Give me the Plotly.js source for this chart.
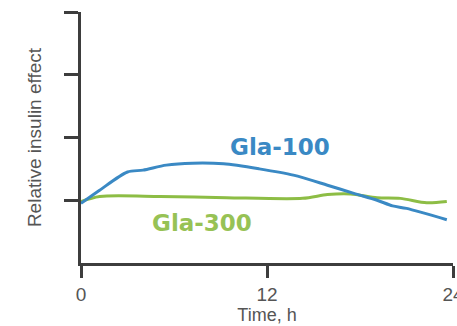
<!DOCTYPE html>
<html>
<head>
<meta charset="utf-8">
<script src="https://cdn.plot.ly/plotly-3.0.1.min.js"></script>
<style>
  html, body { margin: 0; padding: 0; background: #fff; }
  #chart { width: 457px; height: 326px; }
</style>
</head>
<body>
<div id="chart"></div>
<script>
// Time after injection (hours) and relative insulin effect for each formulation
const hoursGla100 = [0, 1.2, 3, 4, 5.5, 7.2, 9.2, 11.5, 13.7, 15.9, 17.6, 19.1, 20.1, 21, 23.6];
const effectGla100 = [0.95, 1.16, 1.45, 1.48, 1.56, 1.59, 1.58, 1.50, 1.40, 1.24, 1.11, 1.00, 0.91, 0.87, 0.69];

const hoursGla300 = [0, 1.2, 5.1, 9.4, 14.3, 15.9, 17.4, 19.1, 20.6, 22.3, 23.6];
const effectGla300 = [0.98, 1.06, 1.06, 1.04, 1.03, 1.09, 1.10, 1.04, 1.03, 0.96, 0.98];

const xTicks = [0, 12, 24];
const xTickLabels = ['0', '12', '24'];
const yTicks = [1, 2, 3, 4];

const blue = '#3a89c4';
const green = '#8dbd45';
const axisColor = '#3d3d3d';
const textColor = '#555555';

const traces = [
  {
    x: hoursGla300, y: effectGla300, mode: 'lines', name: 'Gla-300',
    line: { color: green, width: 3, shape: 'spline', smoothing: 0.8 },
    hoverinfo: 'skip'
  },
  {
    x: hoursGla100, y: effectGla100, mode: 'lines', name: 'Gla-100',
    line: { color: blue, width: 3, shape: 'spline', smoothing: 0.8 },
    hoverinfo: 'skip'
  }
];

const layout = {
  width: 457, height: 326,
  margin: { l: 81, r: 4, t: 12, b: 63 },
  paper_bgcolor: '#ffffff', plot_bgcolor: '#ffffff',
  showlegend: false,
  font: { family: 'Liberation Sans, Arial, sans-serif', color: textColor },
  xaxis: {
    range: [0, 24], tickvals: xTicks, ticktext: xTickLabels,
    showgrid: false, zeroline: false,
    showline: true, linecolor: axisColor, linewidth: 3,
    ticks: 'outside', ticklen: 12, tickwidth: 3, tickcolor: axisColor,
    ticklabeloverflow: 'allow',
    tickfont: { size: 19, color: textColor },
    title: { text: 'Time, h', font: { size: 18, color: textColor }, standoff: 2 }
  },
  yaxis: {
    range: [0, 4], tickvals: yTicks, showticklabels: false,
    showgrid: false, zeroline: false,
    showline: true, linecolor: axisColor, linewidth: 3,
    ticks: 'outside', ticklen: 14, tickwidth: 3, tickcolor: axisColor,
    title: { text: 'Relative insulin effect', font: { size: 19, color: textColor }, standoff: 18 }
  },
  annotations: [
    { x: 12.84, y: 1.85, xref: 'x', yref: 'y', text: '<b>Gla-100</b>', showarrow: false,
      font: { family: 'DejaVu Sans, sans-serif', size: 23, color: blue } },
    { x: 7.79, y: 0.64, xref: 'x', yref: 'y', text: '<b>Gla-300</b>', showarrow: false,
      font: { family: 'DejaVu Sans, sans-serif', size: 23, color: '#97c255' } }
  ]
};

Plotly.newPlot('chart', traces, layout, { staticPlot: true, displayModeBar: false });
</script>
</body>
</html>
